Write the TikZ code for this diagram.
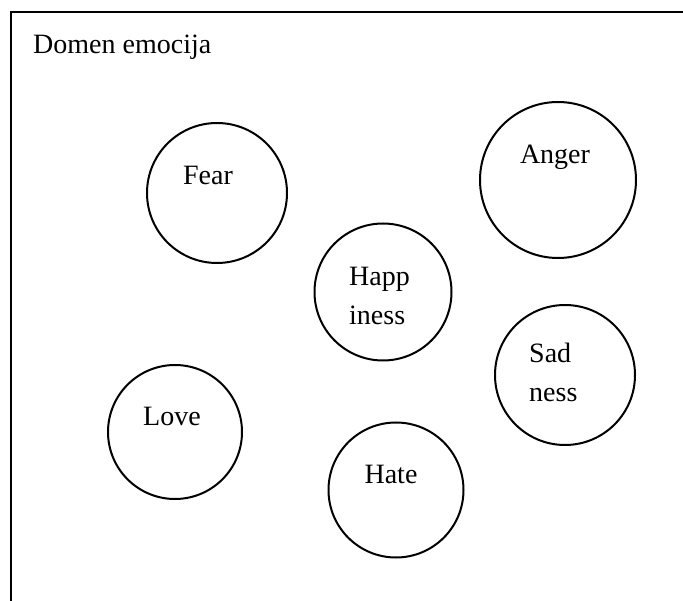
\documentclass[tikz,border=0pt]{standalone}
\usepackage{fontspec}
\setmainfont{Liberation Serif}
\begin{document}
\begin{tikzpicture}[x=1pt,y=-1pt,
  emo/.style={draw,circle,line width=2pt,minimum size=#1,inner sep=0pt},
  lbl/.style={font=\fontsize{28}{39}\selectfont,align=center,inner sep=0pt},
  split/.style={lbl,align=left,anchor=west}]
\useasboundingbox (0,0) rectangle (683,601);
% frame: top and left edges of the domain box
\draw[line width=2pt] (11,601) -- (11,12.5) -- (683,12.5);
\node[lbl,anchor=base west] (title) at (33,54) {Domen emocija};
% emotion circles
\node[emo=140pt] (fear) at (217,193) {};
\node[lbl] (feart) at (208,175) {Fear};
\node[emo=156pt] (anger) at (558,180) {};
\node[lbl] (angert) at (555,157) {Anger};
\node[emo=137pt] (happy) at (383,292) {};
\node[split] (happyt) at (349,296) {Happ\\iness};
\node[emo=140pt] (sad) at (565,375) {};
\node[split] (sadt) at (529,372) {Sad\\ness};
\node[emo=134pt] (love) at (175,432) {};
\node[lbl] (lovet) at (172,416) {Love};
\node[emo=135pt] (hate) at (396,490) {};
\node[lbl] (hatet) at (391,474) {Hate};
\end{tikzpicture}
\end{document}
